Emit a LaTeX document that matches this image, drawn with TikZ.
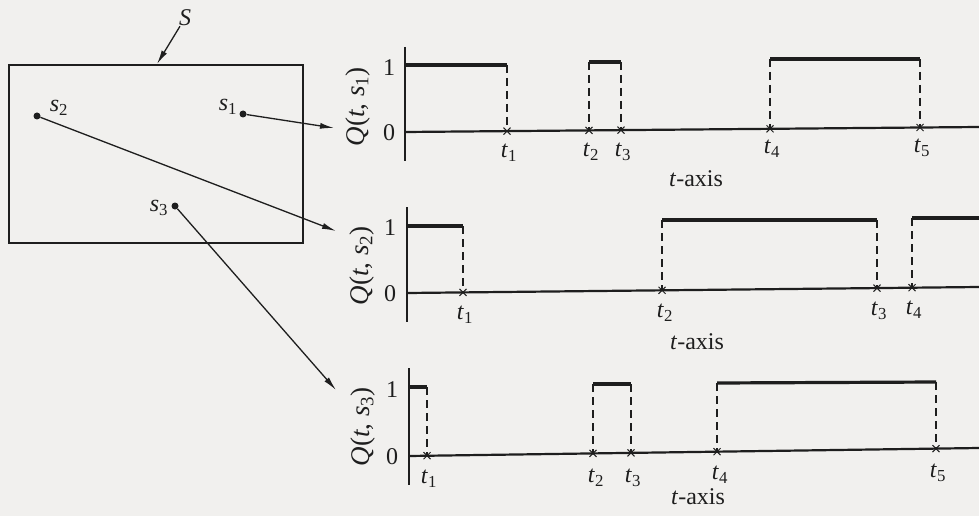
\documentclass[tikz,border=0pt]{standalone}
\usepackage{fontspec}
\setmainfont{Liberation Serif}
\usetikzlibrary{arrows.meta,shapes.misc}
\definecolor{paper}{RGB}{241,240,238}
\definecolor{ink}{RGB}{30,30,30}
\newcommand\ti[1]{\textit{#1}}
\newcommand\sub[1]{\textsubscript{#1}}
\tikzset{
  arr/.style={draw=ink, line width=1.3pt, -{Latex[length=14pt,width=6pt]}},
  dot/.style={circle, fill=ink, inner sep=0pt, minimum size=7pt},
  axisl/.style={draw=ink, line width=2.2pt},
  zerol/.style={draw=ink, line width=2.2pt},
  lev/.style={draw=ink, line width=3.2pt, line cap=butt},
  drop/.style={draw=ink, line width=1.1pt, dash pattern=on 8pt off 5pt},
  xmark/.style={cross out, draw=ink, line width=1pt, minimum size=6pt, inner sep=0pt},
  lab/.style={text=ink, inner sep=0pt},
  qlab/.style={lab, rotate=90, font=\fontsize{27}{30}\selectfont},
}
\begin{document}
\begin{tikzpicture}[x=1pt, y=-1pt, font=\fontsize{24}{28}\selectfont]
\fill[paper] (0,0) rectangle (979,516);
\useasboundingbox (0,0) rectangle (979,516);

% ---- region S ----
\draw[ink, line width=1.3pt] (9,65) rectangle (303,243);
\node[lab] (S) at (185,18) {\ti{S}};
\coordinate (Stip) at (157,64);
\draw[arr] (S) -- (Stip);

\node[dot] (s1) at (243,114) {};
\node[dot] (s2) at (37,116) {};
\node[dot] (s3) at (175,206) {};
\node[lab] (ls1) at (228,107) {\ti{s}\sub{1}};
\node[lab] (ls2) at (59,108) {\ti{s}\sub{2}};
\node[lab] (ls3) at (159,208) {\ti{s}\sub{3}};

\coordinate (e1) at (334,128);
\coordinate (e2) at (336,231);
\coordinate (e3) at (336,390);
\draw[arr] (s1) -- (e1);
\draw[arr] (s2) -- (e2);
\draw[arr] (s3) -- (e3);

% ---- plot 1 ----
\draw[axisl] (405,47) -- (405,161);
\draw[zerol] (405,132) -- (979,127);
\node[qlab] (q1) at (358,107) {\ti{Q}(\ti{t}, \ti{s}\sub{1})};
\node[lab] (one1) at (389,68) {1};
\node[lab] (zero1) at (389,133) {0};
\draw[lev] (405,65) -- (507,65);
\draw[lev] (589,62) -- (621,62);
\draw[lev] (770,59) -- (920,59);
\draw[drop] (507,65) -- (507,131.1);
\draw[drop] (589,62) -- (589,130.4);
\draw[drop] (621,62) -- (621,130.1);
\draw[drop] (770,59) -- (770,128.8);
\draw[drop] (920,59) -- (920,127.5);
\node[xmark] (x11) at (507,131.1) {};
\node[xmark] (x12) at (589,130.4) {};
\node[xmark] (x13) at (621,130.1) {};
\node[xmark] (x14) at (770,128.8) {};
\node[xmark] (x15) at (920,127.5) {};
\node[lab] (t11) at (509,153) {\ti{t}\sub{1}};
\node[lab] (t12) at (591,152) {\ti{t}\sub{2}};
\node[lab] (t13) at (623,152) {\ti{t}\sub{3}};
\node[lab] (t14) at (772,149) {\ti{t}\sub{4}};
\node[lab] (t15) at (922,148) {\ti{t}\sub{5}};
\node[lab] (ax1) at (696,179) {\ti{t}-axis};

% ---- plot 2 ----
\draw[axisl] (407,207) -- (407,322);
\draw[zerol] (407,293) -- (979,287);
\node[qlab] (q2) at (362,266) {\ti{Q}(\ti{t}, \ti{s}\sub{2})};
\node[lab] (one2) at (390,228) {1};
\node[lab] (zero2) at (390,294) {0};
\draw[lev] (407,226) -- (463,226);
\draw[lev] (662,220) -- (877,220);
\draw[lev] (912,218) -- (979,218);
\draw[drop] (463,226) -- (463,292.4);
\draw[drop] (662,220) -- (662,290.3);
\draw[drop] (877,220) -- (877,288.1);
\draw[drop] (912,218) -- (912,287.7);
\node[xmark] (x21) at (463,292.4) {};
\node[xmark] (x22) at (662,290.3) {};
\node[xmark] (x23) at (877,288.1) {};
\node[xmark] (x24) at (912,287.7) {};
\node[lab] (t21) at (465,315) {\ti{t}\sub{1}};
\node[lab] (t22) at (665,313) {\ti{t}\sub{2}};
\node[lab] (t23) at (879,311) {\ti{t}\sub{3}};
\node[lab] (t24) at (914,310) {\ti{t}\sub{4}};
\node[lab] (ax2) at (697,342) {\ti{t}-axis};

% ---- plot 3 ----
\draw[axisl] (409,368) -- (409,485);
\draw[zerol] (409,456) -- (979,448);
\node[qlab] (q3) at (363,427) {\ti{Q}(\ti{t}, \ti{s}\sub{3})};
\node[lab] (one3) at (392,390) {1};
\node[lab] (zero3) at (392,457) {0};
\draw[lev] (409,387) -- (427,387);
\draw[lev] (593,384) -- (631,384);
\draw[lev] (717,383) -- (936,382);
\draw[drop] (427,387) -- (427,455.7);
\draw[drop] (593,384) -- (593,453.4);
\draw[drop] (631,384) -- (631,452.9);
\draw[drop] (717,383) -- (717,451.7);
\draw[drop] (936,382) -- (936,448.6);
\node[xmark] (x31) at (427,455.7) {};
\node[xmark] (x32) at (593,453.4) {};
\node[xmark] (x33) at (631,452.9) {};
\node[xmark] (x34) at (717,451.7) {};
\node[xmark] (x35) at (936,448.6) {};
\node[lab] (t31) at (429,479) {\ti{t}\sub{1}};
\node[lab] (t32) at (596,478) {\ti{t}\sub{2}};
\node[lab] (t33) at (633,478) {\ti{t}\sub{3}};
\node[lab] (t34) at (720,475) {\ti{t}\sub{4}};
\node[lab] (t35) at (938,473) {\ti{t}\sub{5}};
\node[lab] (ax3) at (698,497) {\ti{t}-axis};
\end{tikzpicture}
\end{document}
